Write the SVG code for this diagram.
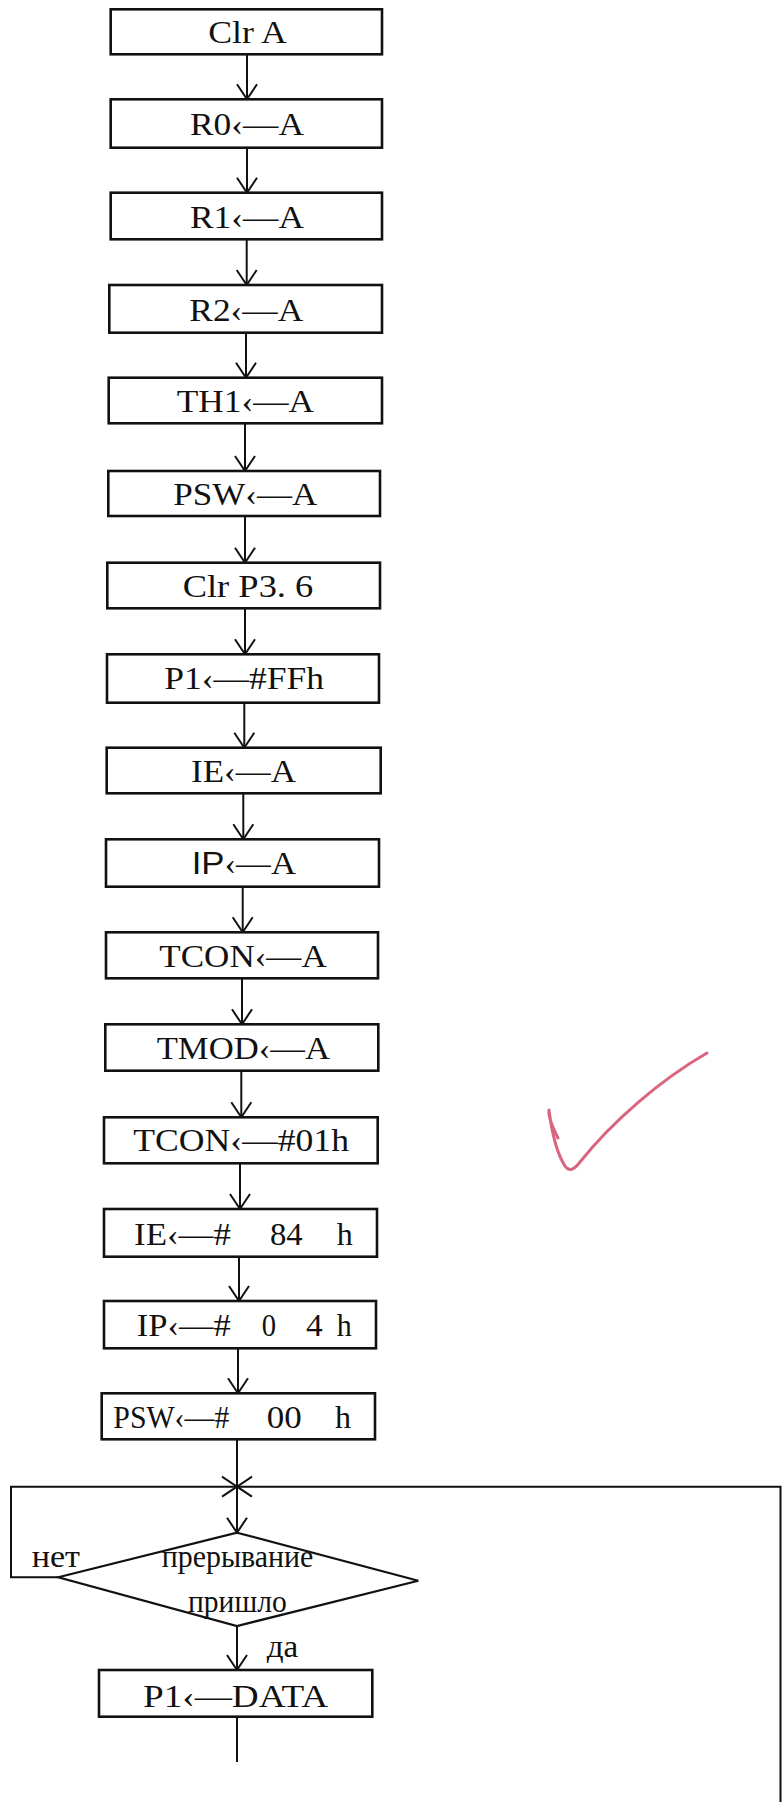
<svg xmlns="http://www.w3.org/2000/svg" width="782" height="1802" viewBox="0 0 782 1802">
<defs>
<marker id="ah" markerUnits="userSpaceOnUse" markerWidth="40" markerHeight="40" refX="0" refY="0" viewBox="-20 -20 40 40" orient="auto" overflow="visible">
<path d="M-15,-10 L0,0 L-15,10" fill="none" stroke="#111" stroke-width="2"/>
</marker>
<style>
.box{fill:#fff;stroke:#111;stroke-width:2.6}
.t{font-family:"Liberation Serif","Times New Roman",serif;font-size:32px;fill:#111}
.c{fill:none;stroke:#111;stroke-width:2}
.a{marker-end:url(#ah)}
</style>
</defs>
<rect width="782" height="1802" fill="#fff"/>
<g id="connectors">
<line class="c a" x1="247" y1="54.3" x2="247" y2="99.3"/>
<line class="c a" x1="247" y1="147.7" x2="247" y2="192.7"/>
<line class="c a" x1="246.7" y1="239.3" x2="246.7" y2="285"/>
<line class="c a" x1="246" y1="332.7" x2="246" y2="377.7"/>
<line class="c a" x1="245" y1="423.3" x2="245" y2="471"/>
<line class="c a" x1="245" y1="516" x2="245" y2="562.7"/>
<line class="c a" x1="245" y1="608.3" x2="245" y2="654.3"/>
<line class="c a" x1="244.3" y1="702.7" x2="244.3" y2="747.7"/>
<line class="c a" x1="243.3" y1="793.3" x2="243.3" y2="839.3"/>
<line class="c a" x1="242.7" y1="886.7" x2="242.7" y2="932.3"/>
<line class="c a" x1="242" y1="978.3" x2="242" y2="1024.3"/>
<line class="c a" x1="241.3" y1="1070.7" x2="241.3" y2="1117.3"/>
<line class="c a" x1="240" y1="1163.3" x2="240" y2="1209"/>
<line class="c a" x1="239" y1="1256.7" x2="239" y2="1301"/>
<line class="c a" x1="238" y1="1348.3" x2="238" y2="1393.3"/>
<line class="c a" x1="237" y1="1439.3" x2="237" y2="1532.7"/>
<path class="c a" d="M58.3,1577.3 H11 V1486.7 H237"/>
<path class="c a" d="M780.5,1802 V1486.7 H237"/>
<line class="c a" x1="237" y1="1626" x2="237" y2="1670"/>
<line class="c" x1="237" y1="1716.7" x2="237" y2="1762"/>
<text class="t" x="31.7" y="1566.7" textLength="48.3" lengthAdjust="spacingAndGlyphs">нет</text>
<text class="t" x="266.7" y="1657.3" textLength="31.6" lengthAdjust="spacingAndGlyphs">да</text>
</g>
<g id="n1"><rect class="box" x="110.7" y="9.3" width="271.3" height="45"/><text class="t" x="208.3" y="43.3" textLength="78.4" lengthAdjust="spacingAndGlyphs">Clr A</text></g>
<g id="n2"><rect class="box" x="110.7" y="99.3" width="271.3" height="48.4"/><text class="t" x="190" y="135" textLength="114" lengthAdjust="spacingAndGlyphs">R0‹—A</text></g>
<g id="n3"><rect class="box" x="110.7" y="192.7" width="271.3" height="46.6"/><text class="t" x="190" y="228.3" textLength="114" lengthAdjust="spacingAndGlyphs">R1‹—A</text></g>
<g id="n4"><rect class="box" x="109.3" y="285" width="272.7" height="47.7"/><text class="t" x="189.3" y="320.7" textLength="114" lengthAdjust="spacingAndGlyphs">R2‹—A</text></g>
<g id="n5"><rect class="box" x="108.7" y="377.7" width="273.3" height="45.6"/><text class="t" x="176.7" y="412.3" textLength="137.3" lengthAdjust="spacingAndGlyphs">TH1‹—A</text></g>
<g id="n6"><rect class="box" x="108.3" y="471" width="271.7" height="45"/><text class="t" x="173.3" y="505" textLength="144" lengthAdjust="spacingAndGlyphs">PSW‹—A</text></g>
<g id="n7"><rect class="box" x="107.3" y="562.7" width="272.7" height="45.6"/><text class="t" x="182.7" y="596.7" textLength="130.6" lengthAdjust="spacingAndGlyphs">Clr P3. 6</text></g>
<g id="n8"><rect class="box" x="107" y="654.3" width="272" height="48.4"/><text class="t" x="164.3" y="689.3" textLength="159.7" lengthAdjust="spacingAndGlyphs">P1‹—#FFh</text></g>
<g id="n9"><rect class="box" x="106.7" y="747.7" width="274" height="45.6"/><text class="t" x="191" y="781.7" textLength="105" lengthAdjust="spacingAndGlyphs">IE‹—A</text></g>
<g id="n10"><rect class="box" x="106" y="839.3" width="273" height="47.4"/><text class="t" x="191.7" y="874" textLength="104.3" lengthAdjust="spacingAndGlyphs"><tspan font-family="Liberation Sans, Arial, sans-serif">IP</tspan>‹—A</text></g>
<g id="n11"><rect class="box" x="106" y="932.3" width="272" height="46"/><text class="t" x="159.3" y="967.3" textLength="167.4" lengthAdjust="spacingAndGlyphs">TCON‹—A</text></g>
<g id="n12"><rect class="box" x="105.3" y="1024.3" width="273" height="46.4"/><text class="t" x="156.7" y="1059.3" textLength="173.3" lengthAdjust="spacingAndGlyphs">TMOD‹—A</text></g>
<g id="n13"><rect class="box" x="104" y="1117.3" width="273.7" height="46"/><text class="t" x="133.3" y="1150.7" textLength="215.7" lengthAdjust="spacingAndGlyphs">TCON‹—#01h</text></g>
<g id="n14"><rect class="box" x="104" y="1209" width="273" height="47.7"/><text class="t" x="134" y="1245" textLength="97" lengthAdjust="spacingAndGlyphs">IE‹—#</text><text class="t" x="270" y="1245" textLength="32.7" lengthAdjust="spacingAndGlyphs">84</text><text class="t" x="336.7" y="1245" textLength="16" lengthAdjust="spacingAndGlyphs">h</text></g>
<g id="n15"><rect class="box" x="104" y="1301" width="272" height="47.3"/><text class="t" x="136.7" y="1335.7" textLength="94" lengthAdjust="spacingAndGlyphs">IP‹—#</text><text class="t" x="261.7" y="1335.7" textLength="14.3" lengthAdjust="spacingAndGlyphs">0</text><text class="t" x="306" y="1335.7" textLength="16.7" lengthAdjust="spacingAndGlyphs">4</text><text class="t" x="336.7" y="1335.7" textLength="15" lengthAdjust="spacingAndGlyphs">h</text></g>
<g id="n16"><rect class="box" x="101.7" y="1393.3" width="273.3" height="46"/><text class="t" x="113.3" y="1428.3" textLength="116" lengthAdjust="spacingAndGlyphs">PSW‹—#</text><text class="t" x="266.7" y="1428.3" textLength="35" lengthAdjust="spacingAndGlyphs">00</text><text class="t" x="335" y="1428.3" textLength="16" lengthAdjust="spacingAndGlyphs">h</text></g>
<g id="n17"><polygon points="237,1532.7 418.3,1580.7 237,1626 58.3,1577.3" fill="none" stroke="#111" stroke-width="2.2"/><text class="t" x="161.7" y="1566.7" textLength="151.6" lengthAdjust="spacingAndGlyphs">прерывание</text><text class="t" x="188" y="1611.7" textLength="98.7" lengthAdjust="spacingAndGlyphs">пришло</text></g>
<g id="n18"><rect class="box" x="99" y="1670" width="273.3" height="46.7"/><text class="t" x="143" y="1706.7" textLength="185" lengthAdjust="spacingAndGlyphs">P1‹—DATA</text></g>
<path d="M558,1138 C553,1128 548,1116 549,1110 C551,1126 556,1152 565,1166 C569,1172 574,1170 580,1162 C612,1122 660,1080 707,1053" fill="none" stroke="#d24a68" stroke-width="3" stroke-linecap="round" stroke-linejoin="round" opacity="0.85"/>
</svg>
